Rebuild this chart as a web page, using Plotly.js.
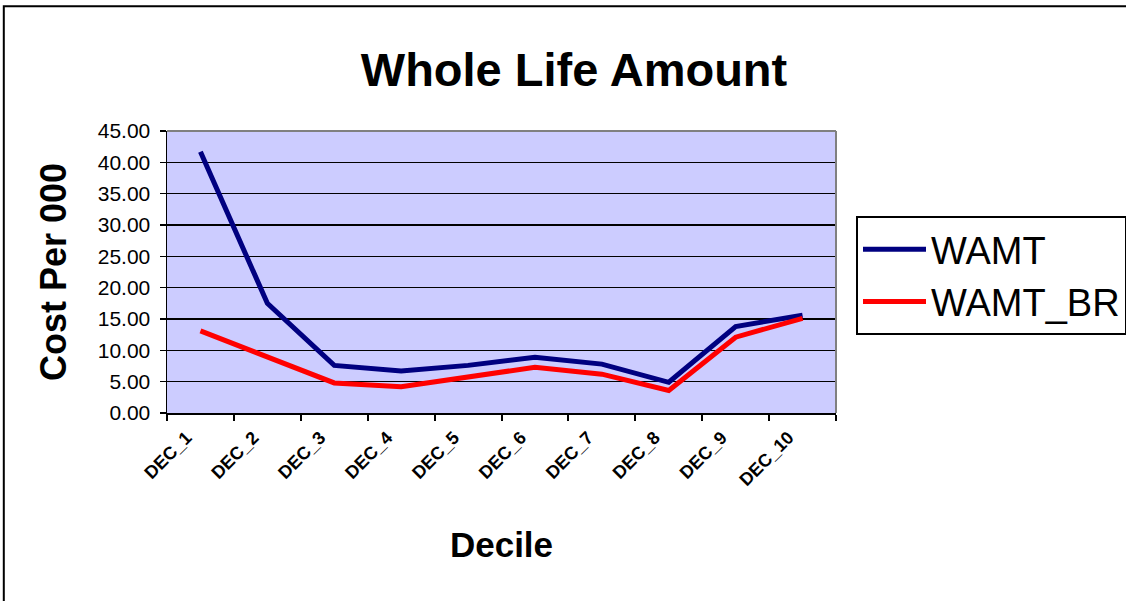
<!DOCTYPE html>
<html>
<head>
<meta charset="utf-8">
<script src="https://cdn.plot.ly/plotly-3.0.1.min.js"></script>
<style>
  html, body { margin: 0; padding: 0; background: #ffffff; }
  #chart { width: 1126px; height: 601px; }
</style>
</head>
<body>
<div id="chart"></div>
<script>
// ---- data ----
const categories = ["DEC_1", "DEC_2", "DEC_3", "DEC_4", "DEC_5", "DEC_6", "DEC_7", "DEC_8", "DEC_9", "DEC_10"];
const wamt       = [41.7, 17.5, 7.6, 6.7, 7.6, 8.9, 7.8, 4.9, 13.8, 15.6];
const wamtBr     = [13.1, 9.0, 4.8, 4.2, 5.7, 7.3, 6.2, 3.6, 12.1, 15.1];
const seriesNames = ["WAMT", "WAMT_BR"];
const yTickVals  = [0, 5, 10, 15, 20, 25, 30, 35, 40, 45];

const FONT = "Liberation Sans, Arial, Helvetica, sans-serif";

// plot-area geometry in pixels
const W = 1126, H = 601;
const L = 166.7, R = 835.7, T = 130.7, B = 412.7;
const pw = R - L, ph = B - T;
const px = x => (x - L) / pw;
const py = y => (B - y) / ph;

const traces = [
  {
    x: categories, y: wamt, name: seriesNames[0], type: "scatter", mode: "lines",
    line: { color: "#000080", width: 5 }
  },
  {
    x: categories, y: wamtBr, name: seriesNames[1], type: "scatter", mode: "lines",
    line: { color: "#FF0000", width: 5 }
  }
];

const layout = {
  width: W, height: H,
  margin: { l: L, r: W - R, t: T, b: H - B, pad: 0, autoexpand: false },
  paper_bgcolor: "#ffffff",
  plot_bgcolor: "#CCCCFF",
  font: { family: FONT, color: "#000000" },
  title: {
    text: "<b>Whole Life Amount</b>",
    font: { family: FONT, size: 47, color: "#000000" },
    x: 574 / W, xanchor: "center", xref: "container",
    y: 1 - 70 / H, yanchor: "middle", yref: "container"
  },
  xaxis: {
    type: "category",
    range: [-0.5, 9.5],
    tickson: "boundaries",
    ticks: "outside", ticklen: 6, tickwidth: 2, tickcolor: "#000000",
    showline: true, linecolor: "#000000", linewidth: 2,
    showgrid: false, zeroline: false,
    tickangle: -45,
    ticklabelshift: -14,
    ticklabelstandoff: 5,
    tickfont: { family: FONT, size: 18, color: "#000000", weight: "bold" },
    title: {
      text: "<b>Decile</b>",
      font: { family: FONT, size: 35, color: "#000000" },
      standoff: 44
    },
    automargin: false
  },
  yaxis: {
    range: [0, 45],
    tickvals: yTickVals,
    tickformat: ".2f",
    ticks: "outside", ticklen: 6, tickwidth: 1.5, tickcolor: "#000000",
    showline: true, linecolor: "#000000", linewidth: 1.5,
    showgrid: true, gridcolor: "#000000", gridwidth: 1.2,
    zeroline: false,
    ticklabelstandoff: 5,
    tickfont: { family: FONT, size: 21, color: "#000000" },
    title: {
      text: "<b>Cost Per 000</b>",
      font: { family: FONT, size: 36, color: "#000000" },
      standoff: 20
    },
    automargin: false
  },
  showlegend: true,
  legend: {
    xref: "container", yref: "container",
    x: 856 / W, xanchor: "left",
    y: 1 - 216 / H, yanchor: "top",
    bgcolor: "#ffffff",
    bordercolor: "#000000", borderwidth: 2,
    font: { family: FONT, size: 38, color: "#000000" },
    tracegroupgap: 0,
    itemwidth: 63
  },
  shapes: [
    // gray top and right border of plot area
    { type: "line", xref: "paper", yref: "paper", x0: 0, x1: 1, y0: 1, y1: 1,
      line: { color: "#808080", width: 2 }, layer: "above" },
    { type: "line", xref: "paper", yref: "paper", x0: 1, x1: 1, y0: 0, y1: 1,
      line: { color: "#808080", width: 2 }, layer: "above" },
    // outer chart border
    { type: "rect", xref: "paper", yref: "paper",
      x0: px(3.5), x1: px(1400), y0: py(900), y1: py(6),
      line: { color: "#000000", width: 2 }, fillcolor: "rgba(0,0,0,0)", layer: "above" }
  ]
};

Plotly.newPlot("chart", traces, layout, { displayModeBar: false, staticPlot: true });
</script>
</body>
</html>
